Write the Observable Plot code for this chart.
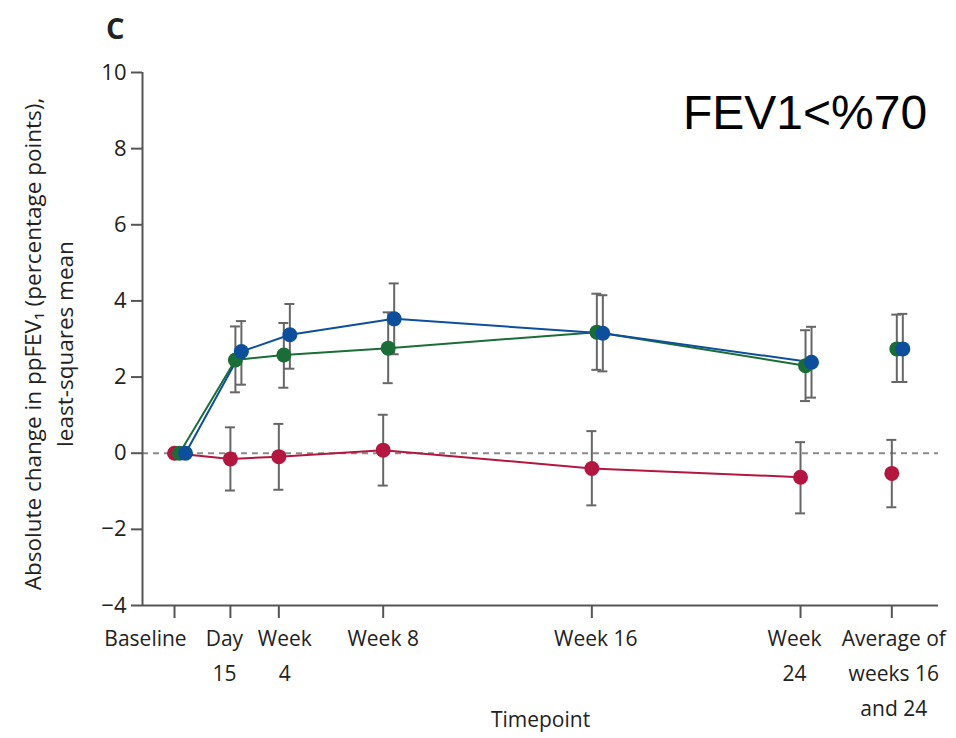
<!DOCTYPE html>
<html>
<head>
<meta charset="utf-8">
<script src="https://cdn.jsdelivr.net/npm/d3@7"></script>
<script src="https://cdn.jsdelivr.net/npm/@observablehq/plot@0.6"></script>
<style>
  html, body { margin: 0; padding: 0; background: #fff; }
  #wrap { position: relative; width: 956px; height: 738px; }
  #panel { position: absolute; left: 106px; top: 8px; font: bold 29px "Open Sans", sans-serif; color: #222; }
  #note { position: absolute; left: 683px; top: 89px; font: 48px "Liberation Sans", Arial, sans-serif; color: #000; line-height: 1; }
</style>
</head>
<body>
<div id="wrap">
  <div id="chart"></div>
  <div id="panel">C</div>
  <div id="note">FEV1&lt;%70</div>
</div>
<script>
// Timepoints (x in weeks since baseline; the last one is the summary slot)
const timepoints = ["Baseline", "Day 15", "Week 4", "Week 8", "Week 16", "Week 24", "Average of weeks 16 and 24"];
const weeks = [0, 15 / 7, 4, 8, 16, 24, 27.5];
const tickLabels = ["Baseline", "Day\n15", "Week\n4", "Week 8", "Week 16", "Week\n24", "Average of\nweeks 16\nand 24"];
const yTicks = [-4, -2, 0, 2, 4, 6, 8, 10];

// Series values (least-squares mean and 95% CI bounds)
const blueMean  = [0, 2.67, 3.11, 3.53, 3.15, 2.39, 2.74];
const blueLow   = [null, 1.80, 2.22, 2.60, 2.15, 1.46, 1.87];
const blueHigh  = [null, 3.47, 3.92, 4.46, 4.15, 3.32, 3.66];
const greenMean = [0, 2.45, 2.58, 2.76, 3.18, 2.30, 2.74];
const greenLow  = [null, 1.60, 1.72, 1.84, 2.19, 1.37, 1.87];
const greenHigh = [null, 3.33, 3.42, 3.70, 4.19, 3.23, 3.64];
const redMean   = [0, -0.15, -0.09, 0.08, -0.40, -0.63, -0.53];
const redLow    = [null, -0.98, -0.96, -0.85, -1.37, -1.58, -1.42];
const redHigh   = [null, 0.68, 0.77, 1.01, 0.58, 0.29, 0.35];

const seriesDefs = [
  {name: "red",   mean: redMean,   low: redLow,   high: redHigh,   color: "#b3173f", dx: 0},
  {name: "green", mean: greenMean, low: greenLow, high: greenHigh, color: "#1b6d38", dx: 5},
  {name: "blue",  mean: blueMean,  low: blueLow,  high: blueHigh,  color: "#0d4f9a", dx: 11}
];

const rows = s => timepoints.map((t, i) => ({
  series: s.name, timepoint: t, x: weeks[i], mean: s.mean[i], low: s.low[i], high: s.high[i]
}));

const xDomain = [-1.227, 29.29];
const yDomain = [-4, 10];
const font = "'Open Sans', sans-serif";
const label = d => tickLabels[weeks.indexOf(d)];
const labelShift = [-29, -6, 6, 0, 4, -6, 2];

const marks = [];
marks.push(Plot.ruleY([0], {stroke: "#8a8a8a", strokeWidth: 2, strokeDasharray: "6,5"}));
// error bars first
for (const s of seriesDefs) {
  const d = rows(s).filter(r => r.low != null);
  marks.push(Plot.ruleX(d, {x: "x", y1: "low", y2: "high", dx: s.dx, stroke: "#666", strokeWidth: 2}));
  marks.push(Plot.ruleY(d, {x1: "x", x2: "x", y: "high", dx: s.dx, insetLeft: -5, insetRight: -5, stroke: "#666", strokeWidth: 2}));
  marks.push(Plot.ruleY(d, {x1: "x", x2: "x", y: "low", dx: s.dx, insetLeft: -5, insetRight: -5, stroke: "#666", strokeWidth: 2}));
}
for (const s of seriesDefs) {
  const d = rows(s);
  marks.push(Plot.line(d.filter(r => r.timepoint !== timepoints[6]), {x: "x", y: "mean", dx: s.dx, stroke: s.color, strokeWidth: 2}));
}
for (const s of seriesDefs) {
  const d = rows(s);
  marks.push(Plot.dot(d, {x: "x", y: "mean", dx: s.dx, r: 7.5, fill: s.color, stroke: "none"}));
}
// axes
marks.push(Plot.ruleX([xDomain[0]], {stroke: "#555", strokeWidth: 2}));
marks.push(Plot.ruleY([yDomain[0]], {stroke: "#555", strokeWidth: 2}));
marks.push(Plot.axisY({ticks: yTicks, tickSize: 11, tickPadding: 5, fontSize: 22, label: null, stroke: "#555", strokeWidth: 2, fill: "#222"}));
marks.push(Plot.axisX({ticks: weeks, tickFormat: label, tickSize: 13, tickPadding: 2, fontSize: 21, lineHeight: 1.68, label: null, stroke: "#555", strokeWidth: 2, fill: "#222", text: null}));
weeks.forEach((w, i) => {
  marks.push(Plot.axisX({ticks: [w], tickFormat: label, tickSize: 0, tickPadding: 15, fontSize: 21, lineHeight: 1.68, label: null, fill: "#222", dx: labelShift[i]}));
});
marks.push(Plot.text(["Timepoint"], {frameAnchor: "bottom", dy: 115, lineAnchor: "middle", fontSize: 21, fill: "#222"}));
marks.push(Plot.text(["Absolute change in ppFEV\u2081 (percentage points),\nleast-squares mean"], {frameAnchor: "left", dx: -96, dy: 5, rotate: -90, lineAnchor: "middle", textAnchor: "middle", lineHeight: 1.45, fontSize: 22.5, fill: "#222"}));

const chart = Plot.plot({
  width: 956,
  height: 738,
  marginLeft: 142,
  marginRight: 18,
  marginTop: 72,
  marginBottom: 133,
  style: {fontFamily: font, background: "white", color: "#222"},
  x: {type: "linear", domain: xDomain},
  y: {domain: yDomain},
  marks
});
document.getElementById("chart").appendChild(chart);
</script>
</body>
</html>
